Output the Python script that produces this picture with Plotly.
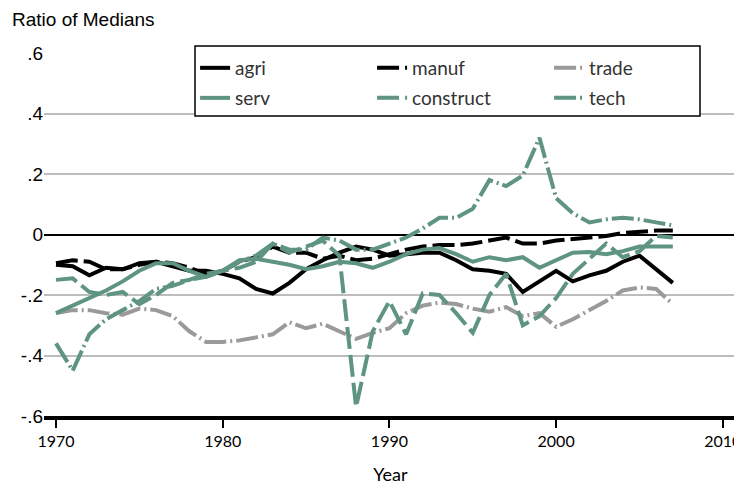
import plotly.graph_objects as go

years = list(range(1970, 2008))

agri = [-0.10, -0.105, -0.135, -0.11, -0.115, -0.095, -0.09, -0.105, -0.12, -0.12,
        -0.13, -0.145, -0.18, -0.195, -0.16, -0.115, -0.085, -0.06, -0.04, -0.05,
        -0.07, -0.065, -0.06, -0.06, -0.085, -0.115, -0.12, -0.13, -0.19, -0.155,
        -0.12, -0.155, -0.135, -0.12, -0.09, -0.07, -0.115, -0.16]

manuf = [-0.095, -0.085, -0.09, -0.115, -0.115, -0.10, -0.09, -0.095, -0.11, -0.13,
         -0.12, -0.09, -0.075, -0.04, -0.06, -0.06, -0.08, -0.07, -0.085, -0.08,
         -0.065, -0.05, -0.04, -0.035, -0.035, -0.03, -0.02, -0.01, -0.03, -0.03,
         -0.02, -0.015, -0.01, -0.005, 0.005, 0.01, 0.013, 0.013]

trade = [-0.26, -0.25, -0.25, -0.26, -0.265, -0.245, -0.25, -0.27, -0.32, -0.355,
         -0.355, -0.35, -0.34, -0.33, -0.29, -0.31, -0.295, -0.32, -0.345, -0.325,
         -0.31, -0.26, -0.235, -0.225, -0.23, -0.245, -0.255, -0.24, -0.27, -0.26,
         -0.305, -0.28, -0.25, -0.22, -0.185, -0.175, -0.18, -0.23]

serv = [-0.26, -0.235, -0.21, -0.185, -0.155, -0.12, -0.095, -0.095, -0.12, -0.14,
        -0.12, -0.085, -0.08, -0.09, -0.10, -0.115, -0.105, -0.09, -0.095, -0.11,
        -0.09, -0.065, -0.05, -0.045, -0.065, -0.09, -0.075, -0.085, -0.075, -0.11,
        -0.085, -0.06, -0.058, -0.065, -0.055, -0.04, -0.04, -0.04]

construct = [-0.15, -0.145, -0.19, -0.20, -0.19, -0.23, -0.20, -0.16, -0.15, -0.13,
             -0.12, -0.11, -0.09, -0.03, -0.06, -0.04, -0.02, -0.07, -0.57, -0.32,
             -0.22, -0.33, -0.195, -0.20, -0.26, -0.325, -0.20, -0.13, -0.30, -0.27,
             -0.21, -0.13, -0.08, -0.03, -0.075, -0.055, -0.005, -0.01]

tech = [-0.36, -0.45, -0.33, -0.28, -0.25, -0.22, -0.18, -0.17, -0.15, -0.14,
        -0.12, -0.09, -0.07, -0.03, -0.05, -0.05, -0.01, -0.02, -0.05, -0.05,
        -0.03, -0.01, 0.02, 0.055, 0.055, 0.085, 0.18, 0.16, 0.195, 0.32,
        0.12, 0.07, 0.04, 0.05, 0.055, 0.05, 0.04, 0.03]

y_ticks = [0.6, 0.4, 0.2, 0, -0.2, -0.4, -0.6]
y_tick_text = [".6", ".4", ".2", "0", "-.2", "-.4", "-.6"]
x_ticks = [1970, 1980, 1990, 2000, 2010]

GREEN = "#5E9481"
GRAY = "#9A9A9C"
DASH = "22px,6px"
DASHDOT = "22px,4px,2px,4px"

series = [
    ("agri", agri, "black", "solid", "legend"),
    ("manuf", manuf, "black", DASH, "legend"),
    ("trade", trade, GRAY, DASHDOT, "legend"),
    ("serv", serv, GREEN, "solid", "legend2"),
    ("construct", construct, GREEN, DASH, "legend2"),
    ("tech", tech, GREEN, DASHDOT, "legend2"),
]

fig = go.Figure()
for name, vals, color, dash, leg in series:
    fig.add_trace(go.Scatter(x=years, y=vals, name=name, mode="lines", legend=leg,
                             line=dict(color=color, width=4, dash=dash)))

sans = "Lato, sans-serif"
arial = "Liberation Sans, Arial, sans-serif"

legend_common = dict(orientation="h", x=0.218, xanchor="left", yanchor="middle",
                     bgcolor="rgba(0,0,0,0)", borderwidth=0,
                     entrywidth=132, entrywidthmode="pixels",
                     font=dict(family=sans, size=19, color="#333333"),
                     traceorder="normal")

# page body has an 8px margin, so the figure is drawn 8px smaller and offset
fig.update_layout(
    width=734, height=477,
    margin=dict(l=36, r=5, t=45, b=69, autoexpand=False),
    plot_bgcolor="white", paper_bgcolor="white",
    showlegend=True,
    legend=dict(y=0.9587, **legend_common),
    legend2=dict(y=0.876, **legend_common),
    shapes=[dict(type="rect", xref="paper", yref="paper",
                 x0=0.2179, x1=0.9466, y0=0.8264, y1=1.0193,
                 line=dict(color="black", width=1.5), fillcolor="white",
                 layer="above")],
    xaxis=dict(range=[1969.28, 2010.85], tickvals=x_ticks, showgrid=False,
               zeroline=False, showline=True, linecolor="black", linewidth=4,
               ticks="outside", ticklen=8, tickwidth=2, tickcolor="black",
               automargin=False, ticklabeloverflow="allow",
               tickfont=dict(family=sans, size=16, color="black"),
               title=dict(text="Year", font=dict(family=sans, size=18, color="black"),
                          standoff=20)),
    yaxis=dict(range=[-0.6, 0.6], tickvals=y_ticks, ticktext=y_tick_text,
               showgrid=True, gridcolor="#BDBDBD", gridwidth=1.5,
               zeroline=True, zerolinecolor="black", zerolinewidth=2,
               showline=False, ticks="", automargin=False,
               tickfont=dict(family=arial, size=19, color="black")),
    annotations=[dict(text="Ratio of Medians", xref="paper", yref="paper",
                      x=-0.049, y=1.091, xanchor="left", yanchor="middle",
                      showarrow=False,
                      font=dict(family=arial, size=19, color="black"))],
)

fig.write_html("out.html")
